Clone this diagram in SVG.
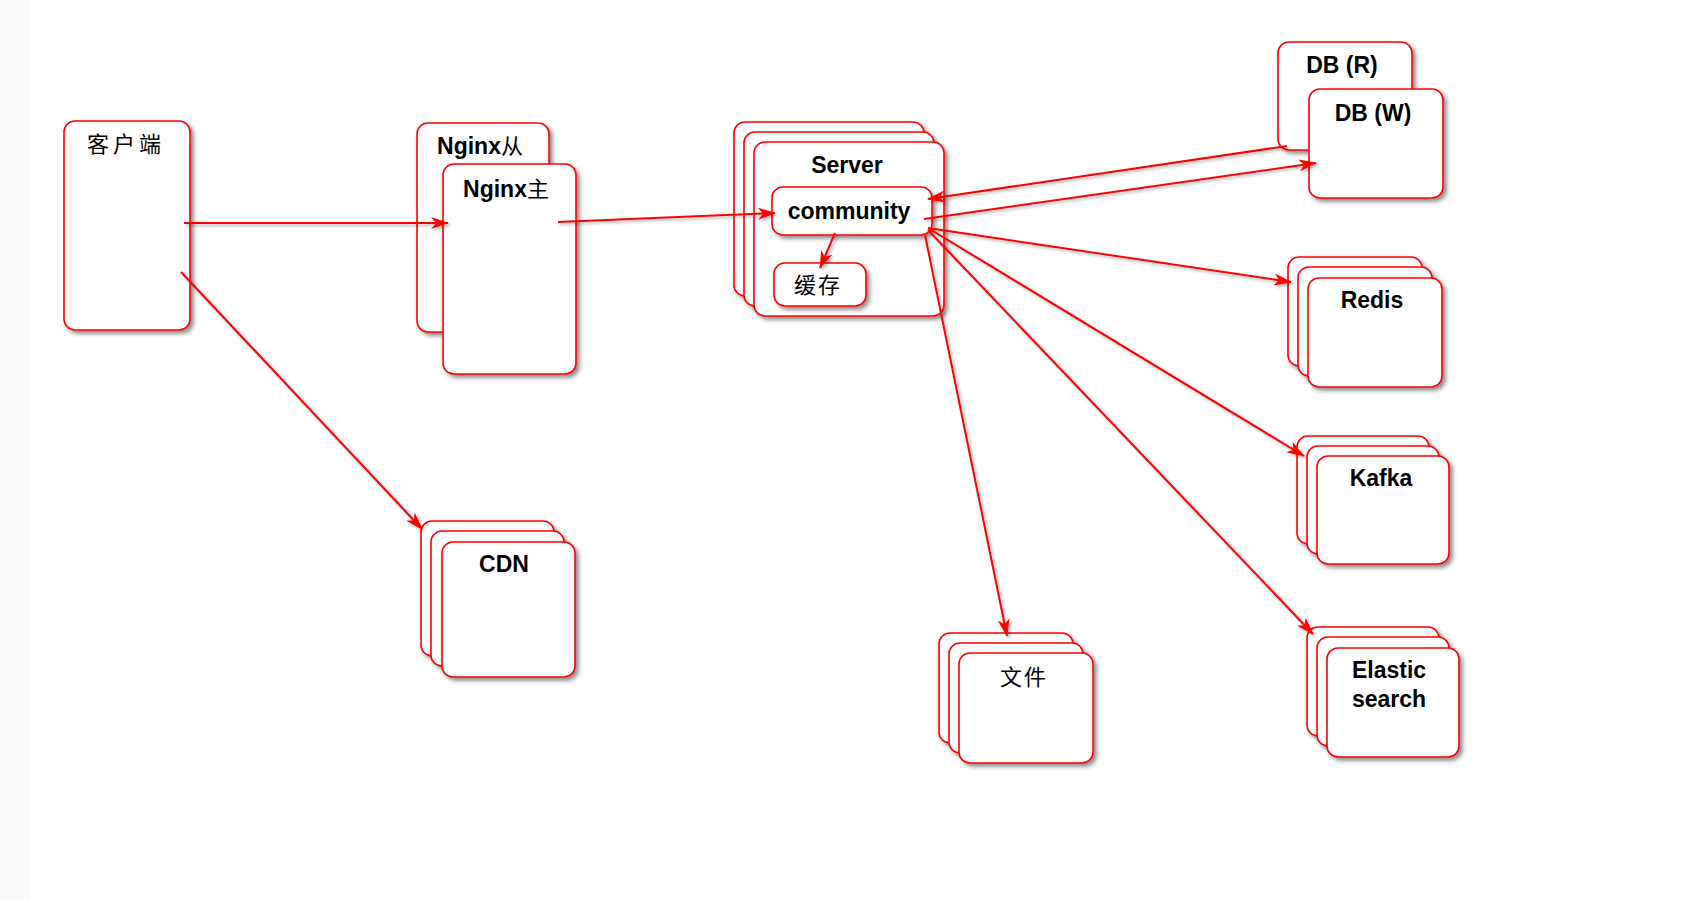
<svg xmlns="http://www.w3.org/2000/svg" width="1694" height="900" viewBox="0 0 1694 900">
<defs>
<filter id="sh" x="-10%" y="-10%" width="130%" height="130%">
<feDropShadow dx="3" dy="3" stdDeviation="2" flood-color="#000" flood-opacity="0.45"/>
</filter>
<filter id="lsh" filterUnits="userSpaceOnUse" x="0" y="0" width="1694" height="900">
<feDropShadow dx="2" dy="2" stdDeviation="1.5" flood-color="#000" flood-opacity="0.3"/>
</filter>
<marker id="arr" viewBox="0 0 18 12" markerWidth="18" markerHeight="12" refX="17" refY="6" orient="auto" markerUnits="userSpaceOnUse">
<path d="M0,0 L18,6 L0,12 L5,6 Z" fill="#ff0000"/>
</marker>
<style>
.b{fill:#fff;stroke:#ff0000;stroke-width:1.6;filter:url(#sh)}
.t{font-family:"Liberation Sans",Arial,"Noto Sans CJK SC",sans-serif;font-weight:bold;font-size:23px;fill:#000;text-anchor:middle}
.c{font-family:"Noto Sans CJK SC","Liberation Sans",sans-serif;font-weight:normal;font-size:22px;fill:#000;text-anchor:middle}
.l{stroke:#ff0000;stroke-width:2;fill:none;marker-end:url(#arr);filter:url(#lsh)}
</style>
</defs>
<rect x="0" y="0" width="1694" height="900" fill="#fff"/>
<rect x="0" y="0" width="30" height="900" fill="#f9f9f9"/>

<g id="client">
<rect class="b" x="64" y="121" width="126" height="209" rx="11"/>
<text class="c" x="126" y="152" letter-spacing="4">客户端</text>
</g>

<g id="nginx-slave">
<rect class="b" x="417" y="123" width="132" height="209" rx="11"/>
<text class="t" x="480" y="154">Nginx<tspan class="c" style="text-anchor:start">从</tspan></text>
</g>
<g id="nginx-master">
<rect class="b" x="443" y="164" width="133" height="210" rx="11"/>
<text class="t" x="506" y="197">Nginx<tspan class="c" style="text-anchor:start">主</tspan></text>
</g>

<g id="server">
<rect class="b" x="734" y="122" width="190" height="174" rx="11"/>
<rect class="b" x="744" y="132" width="190" height="174" rx="11"/>
<rect class="b" x="754" y="142" width="190" height="174" rx="11"/>
<text class="t" x="847" y="173">Server</text>
</g>

<g id="community">
<rect class="b" x="772" y="187" width="160" height="48" rx="11"/>
<text class="t" x="849" y="219">community</text>
</g>

<g id="cache">
<rect class="b" x="774" y="263" width="92" height="43" rx="11"/>
<text class="c" x="818" y="293" letter-spacing="2">缓存</text>
</g>

<g id="db-r">
<rect class="b" x="1278" y="42" width="134" height="108" rx="11"/>
<text class="t" x="1342" y="73">DB (R)</text>
</g>
<g id="db-w">
<rect class="b" x="1309" y="89" width="134" height="109" rx="11"/>
<text class="t" x="1373" y="121">DB (W)</text>
</g>

<g id="redis">
<rect class="b" x="1288" y="257" width="134" height="109" rx="11"/>
<rect class="b" x="1298" y="267" width="134" height="109" rx="11"/>
<rect class="b" x="1308" y="278" width="134" height="109" rx="11"/>
<text class="t" x="1372" y="308">Redis</text>
</g>

<g id="kafka">
<rect class="b" x="1297" y="436" width="132" height="108" rx="11"/>
<rect class="b" x="1307" y="446" width="132" height="108" rx="11"/>
<rect class="b" x="1317" y="456" width="132" height="108" rx="11"/>
<text class="t" x="1381" y="486">Kafka</text>
</g>

<g id="cdn">
<rect class="b" x="421" y="521" width="133" height="135" rx="11"/>
<rect class="b" x="431" y="531" width="133" height="135" rx="11"/>
<rect class="b" x="442" y="542" width="133" height="135" rx="11"/>
<text class="t" x="504" y="572">CDN</text>
</g>

<g id="file">
<rect class="b" x="939" y="633" width="134" height="110" rx="11"/>
<rect class="b" x="949" y="643" width="134" height="110" rx="11"/>
<rect class="b" x="959" y="653" width="134" height="110" rx="11"/>
<text class="c" x="1024" y="685" letter-spacing="2">文件</text>
</g>

<g id="elasticsearch">
<rect class="b" x="1307" y="627" width="132" height="109" rx="11"/>
<rect class="b" x="1317" y="637" width="132" height="109" rx="11"/>
<rect class="b" x="1327" y="648" width="132" height="109" rx="11"/>
<text class="t" x="1389" y="678">Elastic</text>
<text class="t" x="1389" y="707">search</text>
</g>

<g id="connectors">
<line class="l" x1="184" y1="223" x2="448" y2="223"/>
<line class="l" x1="181" y1="272" x2="422" y2="529"/>
<line class="l" x1="558" y1="222" x2="775" y2="213"/>
<line class="l" x1="835" y1="233" x2="820" y2="268"/>
<line class="l" x1="1287" y1="146" x2="928" y2="199"/>
<line class="l" x1="924" y1="219" x2="1316" y2="163"/>
<line class="l" x1="928" y1="228" x2="1291" y2="282"/>
<line class="l" x1="928" y1="228" x2="1304" y2="456"/>
<line class="l" x1="928" y1="230" x2="1313" y2="634"/>
<line class="l" x1="925" y1="235" x2="1007" y2="636"/>
</g>
</svg>
